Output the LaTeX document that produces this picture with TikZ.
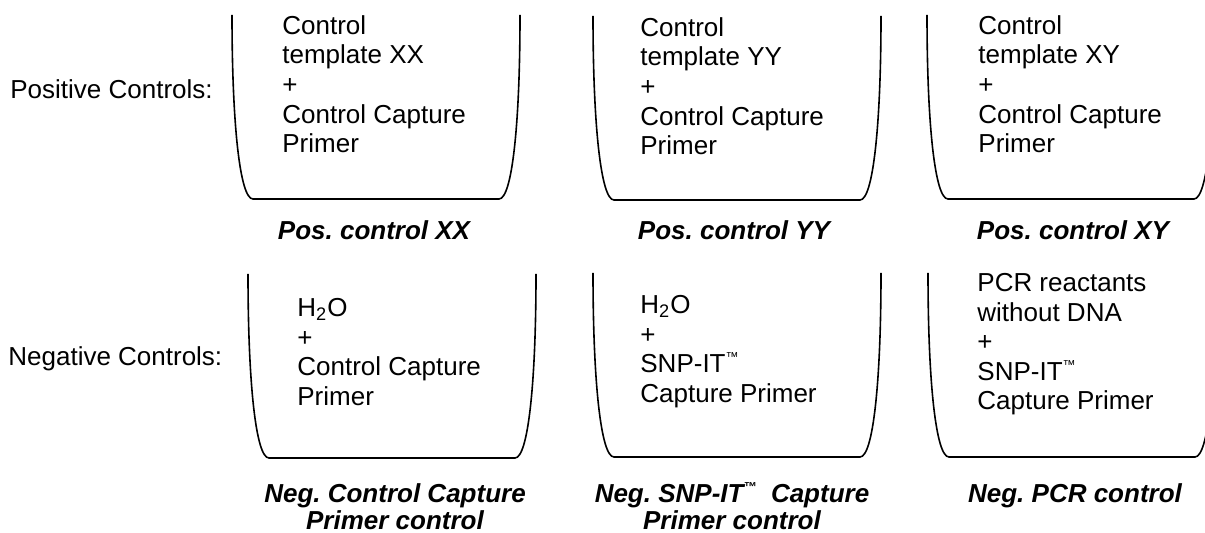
\documentclass[tikz,border=0pt]{standalone}
\usepackage{fontspec}
\setmainfont{Liberation Sans}
\frenchspacing
\newcommand{\tmark}{\raisebox{0.42em}{\fontsize{6.5}{6.5}\selectfont ™}}

\begin{document}
\begin{tikzpicture}[
        x=0.5pt, y=-0.5pt,
        well/.pic={\draw[line width=0.8pt] (0,0) .. controls (0,110) and (8,184) .. (21,184) -- (267,184) .. controls (280,184) and (288,110) .. (288,0);},
        mix/.style={anchor=north west, inner sep=0pt, align=left, font=\fontsize{13}{14.8}\selectfont},
        rowlabel/.style={anchor=base west, inner sep=0pt, font=\fontsize{13}{14.8}\selectfont},
        wellname/.style={anchor=north, inner sep=0pt, align=center, font=\fontsize{13}{13.8}\selectfont\bfseries\itshape}
    ]
        \path[use as bounding box] (0,0) rectangle (1205,533);
        \clip (0,0) rectangle (1205,533);

        % Row labels
        \node[rowlabel] (poslabel) at (10,99) {Positive Controls:};
        \node[rowlabel] (neglabel) at (8,366) {Negative Controls:};

        % Wells
        \pic at (232,15) {well};
        \pic at (593,16) {well};
        \pic at (927,15) {well};
        \pic at (248,274) {well};
        \pic at (593,273) {well};
        \pic at (928,273) {well};

        % Positive contents
        \node[mix] (posxx) at (282,15) {Control\\template XX\\+\\Control Capture\\Primer};
        \node[mix] (posyy) at (640,17) {Control\\template YY\\+\\Control Capture\\Primer};
        \node[mix] (posxy) at (978,15) {Control\\template XY\\+\\Control Capture\\Primer};

        % Negative contents
        \node[mix] (negcp) at (297,298) {H\textsubscript{2}O\\+\\Control Capture\\Primer};
        \node[mix] (negsnp) at (640,295) {H\textsubscript{2}O\\+\\SNP-IT\tmark\\Capture Primer};
        \node[mix] (negpcr) at (977,273) {PCR reactants\\without DNA\\+\\SNP-IT\tmark\\Capture Primer};

        % Well names
        \node[wellname] (namexx) at (374,220) {Pos. control XX};
        \node[wellname] (nameyy) at (734,220) {Pos. control YY};
        \node[wellname] (namexy) at (1073,220) {Pos. control XY};
        \node[wellname] (namecp) at (395,483) {Neg. Control Capture\\Primer control};
        \node[wellname] (namesnp) at (732,482) {Neg. SNP-IT\tmark\ \ Capture\\Primer control};
        \node[wellname] (namepcr) at (1075,483) {Neg. PCR control};
    \end{tikzpicture}
\end{document}
